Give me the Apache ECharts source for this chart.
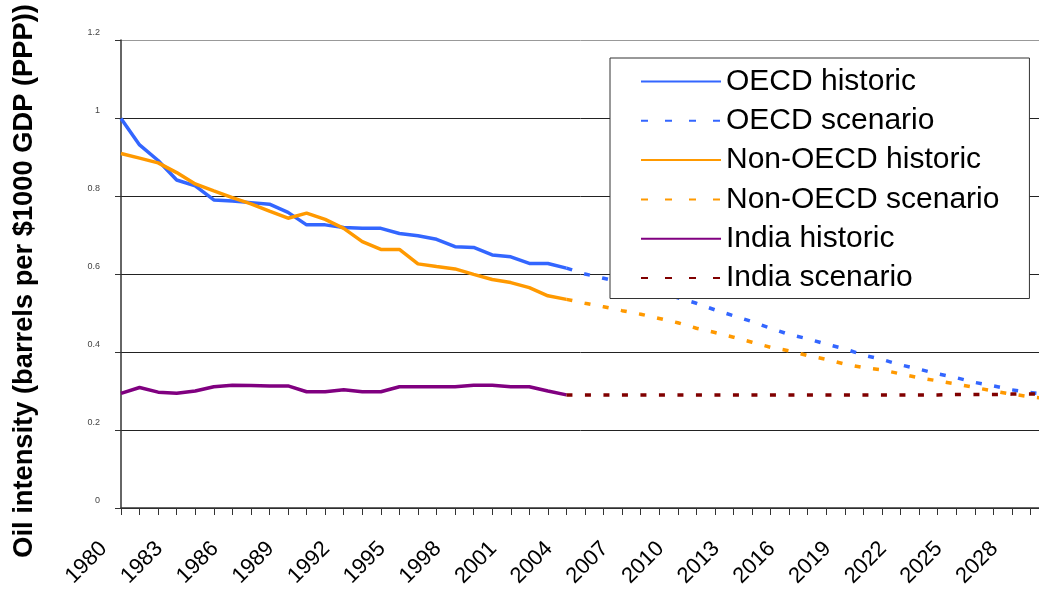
<!DOCTYPE html>
<html><head><meta charset="utf-8">
<script src="https://cdn.jsdelivr.net/npm/echarts@6/dist/echarts.min.js"></script>
<style>html,body{margin:0;padding:0;background:#fff}#c{width:1039px;height:589px}</style>
</head><body><div id="c"></div>
<script>
// Categories: years 1980–2030
const years = ['1980','1981','1982','1983','1984','1985','1986','1987','1988','1989',
  '1990','1991','1992','1993','1994','1995','1996','1997','1998','1999',
  '2000','2001','2002','2003','2004','2005','2006','2007','2008','2009',
  '2010','2011','2012','2013','2014','2015','2016','2017','2018','2019',
  '2020','2021','2022','2023','2024','2025','2026','2027','2028','2029','2030'];
const historicFrom = '1980';   // historic series: 1980–2004
const scenarioFrom = '2004';   // scenario series: 2004–2030
const yTicks = [0, 0.2, 0.4, 0.6, 0.8, 1, 1.2];

const oecdHistoric = [0.999,0.931,0.891,0.841,0.826,0.790,0.787,0.783,0.779,0.758,
  0.726,0.726,0.719,0.717,0.717,0.704,0.698,0.689,0.670,0.668,
  0.649,0.644,0.627,0.627,0.615];
const oecdScenario = [0.615,0.600,0.589,0.578,0.565,0.552,0.539,0.525,0.508,0.493,
  0.478,0.461,0.445,0.434,0.420,0.408,0.392,0.381,0.367,0.356,
  0.344,0.334,0.322,0.313,0.303,0.296,0.290];
const nonOecdHistoric = [0.909,0.897,0.885,0.860,0.831,0.813,0.796,0.780,0.761,0.743,
  0.756,0.740,0.717,0.683,0.663,0.663,0.626,0.619,0.613,0.599,
  0.586,0.578,0.565,0.544,0.535];
const nonOecdScenario = [0.535,0.525,0.516,0.506,0.497,0.486,0.475,0.461,0.450,0.438,
  0.425,0.412,0.403,0.391,0.381,0.369,0.360,0.354,0.344,0.334,
  0.326,0.318,0.309,0.300,0.292,0.285,0.280];
const indiaHistoric = [0.294,0.309,0.297,0.294,0.300,0.311,0.315,0.314,0.313,0.313,
  0.298,0.298,0.303,0.298,0.298,0.311,0.311,0.311,0.311,0.315,
  0.315,0.311,0.311,0.300,0.290];
const indiaScenario = [0.290,0.290,0.290,0.290,0.290,0.290,0.290,0.290,0.290,0.290,
  0.290,0.290,0.290,0.290,0.290,0.290,0.290,0.290,0.290,0.290,
  0.290,0.291,0.291,0.291,0.292,0.292,0.292];

function place(values, fromYear) {
  const start = years.indexOf(fromYear);
  return years.map((y, i) => (i >= start && i - start < values.length) ? values[i - start] : null);
}

const FONT = 'Liberation Sans, Arial, sans-serif';
const C = { oecd: '#3366FF', non: '#FF9900', india: '#800080', indiaSc: '#800000' };
const plotDash = [6, 12.5];
const legendDash = [7, 17];

function mk(name, values, from, color, dashed) {
  return {
    name, type: 'line', data: place(values, from),
    symbol: 'none', showSymbol: false, connectNulls: false, smooth: false,
    lineStyle: { color, width: 3.5, type: dashed ? plotDash : 'solid', cap: 'butt' },
    itemStyle: { color }, z: 2
  };
}

const chart = echarts.init(document.getElementById('c'), null, { renderer: 'canvas' });
chart.setOption({
  animation: false,
  backgroundColor: '#fff',
  grid: { left: 121, right: -10, top: 40, bottom: 81, containLabel: false, outerBoundsMode: 'none' },
  xAxis: {
    type: 'category', data: years, boundaryGap: false,
    axisLine: { show: true, lineStyle: { color: '#333', width: 1.5 } },
    axisTick: { show: true, interval: 0, length: 7, lineStyle: { color: '#333' } },
    axisLabel: { interval: 2, rotate: 45, margin: 20,
      formatter: v => '{t|' + v + '}{s|00}',
      rich: {
        t: { fontSize: 22, color: '#000', fontFamily: FONT },
        s: { fontSize: 22, color: 'rgba(0,0,0,0)', fontFamily: FONT }
      } },
    splitLine: { show: false }
  },
  yAxis: {
    type: 'value', min: yTicks[0], max: yTicks[yTicks.length - 1], interval: 0.2,
    name: 'Oil intensity (barrels per $1000 GDP (PPP))',
    nameLocation: 'middle', nameRotate: 90, nameGap: 83,
    nameTextStyle: { fontSize: 27.3, fontWeight: 'bold', color: '#000', fontFamily: FONT, padding: [0, 14, 0, 0] },
    axisLine: { show: true, lineStyle: { color: '#333', width: 1.5 } },
    axisTick: { show: true, length: 6, lineStyle: { color: '#333' } },
    axisLabel: { fontSize: 9, color: '#444', fontFamily: FONT, margin: 21,
      verticalAlign: 'bottom', lineHeight: 14 },
    splitLine: { show: true, lineStyle: { color: ['#222','#222','#222','#222','#222','#222','#999'], width: 1 } }
  },
  legend: {
    orient: 'vertical', left: 610, top: 58,
    padding: [8.5, 30, 5.5, 30],
    itemWidth: 80, itemHeight: 14, itemGap: 9.3,
    backgroundColor: '#fff', borderColor: '#333', borderWidth: 1, borderRadius: 0,
    itemStyle: { opacity: 0 },
    textStyle: { fontSize: 30, fontFamily: FONT, color: '#000', lineHeight: 30 },
    data: [
      { name: 'OECD historic' },
      { name: 'OECD scenario', lineStyle: { type: legendDash } },
      { name: 'Non-OECD historic' },
      { name: 'Non-OECD scenario', lineStyle: { type: legendDash } },
      { name: 'India historic' },
      { name: 'India scenario', lineStyle: { type: legendDash } }
    ],
    z: 10
  },
  series: [
    mk('OECD historic', oecdHistoric, historicFrom, C.oecd, false),
    mk('OECD scenario', oecdScenario, scenarioFrom, C.oecd, true),
    mk('Non-OECD historic', nonOecdHistoric, historicFrom, C.non, false),
    mk('Non-OECD scenario', nonOecdScenario, scenarioFrom, C.non, true),
    mk('India historic', indiaHistoric, historicFrom, C.india, false),
    mk('India scenario', indiaScenario, scenarioFrom, C.indiaSc, true)
  ]
});
</script></body></html>
